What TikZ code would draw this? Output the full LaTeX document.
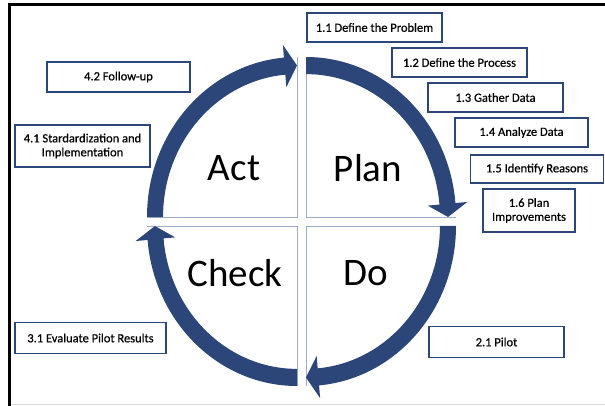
\documentclass[tikz,border=0pt]{standalone}
\usepackage{fontspec}
\setmainfont{Carlito}
\newfontfamily\boxfont{Carlito}[FakeBold=0.6]
\definecolor{navy}{HTML}{2C4679}
\definecolor{quadline}{HTML}{9DAECB}
\definecolor{frameline}{HTML}{D9D9D9}
\newcommand\pdcaarrow[2]{%
  \begin{scope}[shift={#1}, x=1cm, y=1cm, xscale=5.2719, yscale=5.6234, rotate=#2]
    \fill[navy] (180:1) arc[start angle=180, end angle=95, radius=1]
      -- (95:1.08) -- (90:0.947) -- (95:0.815) -- (95:0.893)
      arc[start angle=95, end angle=180, radius=0.893] -- cycle;
  \end{scope}}
\begin{document}
\begin{tikzpicture}[x=1pt, y=1pt,
  stepbox/.style={draw=navy, line width=1.9pt, fill=white, align=center,
    inner sep=1pt, font=\boxfont\fontsize{12.5}{14}\selectfont},
  bigword/.style={font=\fontsize{39}{40}\selectfont},
  qline/.style={draw=quadline, line width=0.9pt}]
\useasboundingbox (0,0) rectangle (605,-406);
% frame
\draw[frameline, line width=1pt] (11,-404) -- (605,-404);
\draw[line width=2.8pt] (605,-4.5) -- (9.5,-4.5) -- (9.5,-406);
% quadrant outlines
\draw[qline] (297,-57) -- (297,-217) -- (147,-217);
\draw[qline] (306,-57) -- (306,-217) -- (456,-217);
\draw[qline] (456,-226) -- (306,-226) -- (306,-386);
\draw[qline] (297,-386) -- (297,-226) -- (147,-226);
% cycle arrows
\pdcaarrow{(297pt,-217pt)}{0}
\pdcaarrow{(306pt,-217pt)}{-90}
\pdcaarrow{(306pt,-226pt)}{-180}
\pdcaarrow{(297pt,-226pt)}{90}
% quadrant words
\node[bigword] (act) at (234,-168) {Act};
\node[bigword] (plan) at (368,-168) {Plan};
\node[bigword] (check) at (235,-273) {Check};
\node[bigword] (do) at (366,-273) {Do};
% step boxes
\node[stepbox, minimum width=135, minimum height=29] (n11) at (374.5,-27.5) {1.1 Define the Problem};
\node[stepbox, minimum width=135, minimum height=29] (n12) at (459.5,-62.5) {1.2 Define the Process};
\node[stepbox, minimum width=135, minimum height=29] (n13) at (495.5,-97.5) {1.3 Gather Data};
\node[stepbox, minimum width=133, minimum height=29] (n14) at (521.5,-132.5) {1.4 Analyze Data};
\node[stepbox, minimum width=133, minimum height=28] (n15) at (537,-169) {1.5 Identify Reasons};
\node[stepbox, minimum width=92, minimum height=43] (n16) at (529,-210.5) {1.6 Plan\\Improvements};
\node[stepbox, minimum width=143, minimum height=30] (n42) at (118.5,-77) {4.2 Follow-up};
\node[stepbox, minimum width=135, minimum height=42] (n41) at (82.5,-146) {4.1 Stardardization and\\Implementation};
\node[stepbox, minimum width=151, minimum height=31] (n31) at (90.5,-338) {3.1 Evaluate Pilot Results};
\node[stepbox, minimum width=135, minimum height=31] (n21) at (496.5,-342) {2.1 Pilot};
\end{tikzpicture}
\end{document}
